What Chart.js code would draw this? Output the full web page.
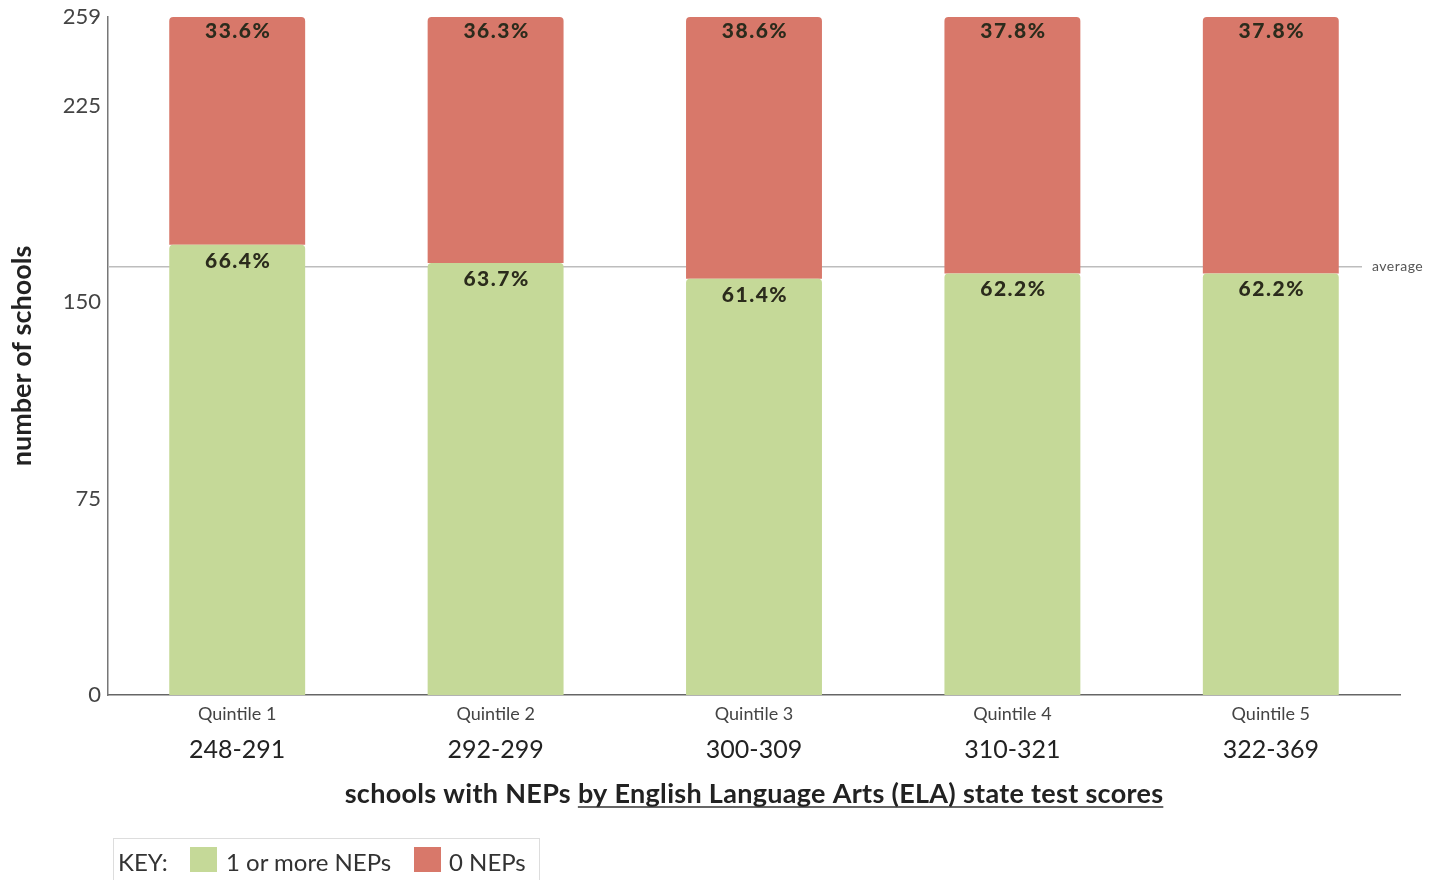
<!DOCTYPE html>
<html>
<head>
<meta charset="utf-8">
<script src="https://cdn.jsdelivr.net/npm/chart.js@4.4.1/dist/chart.umd.min.js"></script>
<style>
  html, body { margin: 0; padding: 0; background: #fff; }
  #wrap { position: relative; width: 1442px; height: 880px; overflow: hidden; }
  #chart { position: absolute; left: 0; top: 0; }
  .key {
    position: absolute; left: 113px; top: 838px; width: 427px; height: 60px;
    border: 1px solid #ddd; box-sizing: border-box;
    font-family: Lato, "Noto Sans", sans-serif; font-size: 24px; color: #333;
  }
  .key span { position: absolute; top: 10px; line-height: 26px; }
  .key .sw { width: 27px; height: 25px; top: 8px; }
</style>
</head>
<body>
<div id="wrap">
  <canvas id="chart" width="1442" height="880"></canvas>
  <div class="key">
    <span style="left:4px;">KEY:</span>
    <span class="sw" style="background:#c5d998; left:76px;"></span>
    <span style="left:112px;">1 or more NEPs</span>
    <span class="sw" style="background:#d8786a; left:300px;"></span>
    <span style="left:335px;">0 NEPs</span>
  </div>
</div>
<script>
// data
const categories = ['Quintile 1', 'Quintile 2', 'Quintile 3', 'Quintile 4', 'Quintile 5'];
const scoreRanges = ['248-291', '292-299', '300-309', '310-321', '322-369'];
const withNEPs = [172, 165, 159, 161, 161];
const withoutNEPs = [87, 94, 100, 98, 98];
const yTicks = [0, 75, 150, 225, 259];

const green = '#c5d998';
const red = '#d8786a';
const font = 'Lato, "Noto Sans", sans-serif';

const totals = withNEPs.map((v, i) => v + withoutNEPs[i]);
const average = withNEPs.reduce((a, b) => a + b, 0) / withNEPs.length;

// average line, percentage labels, x title
const extras = {
  id: 'extras',
  beforeDatasetsDraw(chart) {
    const { ctx, chartArea, scales } = chart;
    const y = scales.y.getPixelForValue(average);
    ctx.save();
    ctx.strokeStyle = '#bdbdbd';
    ctx.lineWidth = 1.5;
    ctx.beginPath();
    ctx.moveTo(chartArea.left, y);
    ctx.lineTo(chartArea.right - 38, y);
    ctx.stroke();
    ctx.fillStyle = '#555';
    ctx.font = '14px ' + font;
    ctx.letterSpacing = '0.5px';
    ctx.textBaseline = 'middle';
    ctx.fillText('average', chartArea.right - 28, y);
    ctx.restore();
  },
  afterDatasetsDraw(chart) {
    const { ctx, chartArea } = chart;
    ctx.save();
    ctx.fillStyle = '#2b2b1c';
    ctx.font = '900 21px ' + font;
    ctx.letterSpacing = '1.5px';
    ctx.textAlign = 'center';
    ctx.textBaseline = 'middle';
    chart.data.datasets.forEach((ds, i) => {
      chart.getDatasetMeta(i).data.forEach((bar, j) => {
        const pct = ds.data[j] / totals[j] * 100;
        ctx.fillText(pct.toFixed(1) + '%', bar.x + 1, bar.y + (i === 0 ? 16 : 14));
      });
    });
    ctx.restore();

    // x axis title, second part underlined
    const a = 'schools with NEPs ';
    const b = 'by English Language Arts (ELA) state test scores';
    ctx.save();
    ctx.font = 'bold 27px ' + font;
    ctx.letterSpacing = '0.3px';
    ctx.fillStyle = '#222';
    ctx.textBaseline = 'middle';
    const wa = ctx.measureText(a).width;
    const wb = ctx.measureText(b).width;
    const cx = (chartArea.left + chartArea.right) / 2;
    const x0 = cx - (wa + wb) / 2;
    const ty = 794;
    ctx.fillText(a, x0, ty);
    ctx.fillText(b, x0 + wa, ty);
    ctx.strokeStyle = '#333';
    ctx.lineWidth = 1.5;
    ctx.beginPath();
    ctx.moveTo(x0 + wa, ty + 13);
    ctx.lineTo(x0 + wa + wb, ty + 13);
    ctx.stroke();
    ctx.restore();
  }
};

new Chart(document.getElementById('chart'), {
  type: 'bar',
  data: {
    labels: categories,
    datasets: [
      {
        label: '1 or more NEPs',
        data: withNEPs,
        backgroundColor: green,
        borderRadius: { topLeft: 4, topRight: 4 },
        borderSkipped: 'bottom',
        categoryPercentage: 1,
        barPercentage: 0.526
      },
      {
        label: '0 NEPs',
        data: withoutNEPs,
        backgroundColor: red,
        borderRadius: { topLeft: 4, topRight: 4 },
        borderSkipped: 'bottom',
        categoryPercentage: 1,
        barPercentage: 0.526
      }
    ]
  },
  options: {
    responsive: false,
    animation: false,
    layout: { padding: { top: 17, right: 42, bottom: 111, left: 0 } },
    plugins: {
      legend: { display: false },
      tooltip: { enabled: false }
    },
    scales: {
      x: {
        stacked: true,
        weight: 0,
        grid: { display: false, drawTicks: false },
        border: { display: true, color: '#666', width: 1.5 },
        ticks: { color: '#444', font: { family: font, size: 18 }, padding: 8 },
        afterFit: s => { s.height = 34; }
      },
      x2: {
        type: 'category',
        labels: scoreRanges,
        position: 'bottom',
        offset: true,
        weight: 1,
        grid: { display: false, drawTicks: false },
        border: { display: false },
        ticks: { color: '#222', font: { family: font, size: 25 }, padding: 6 },
        afterFit: s => { s.height = 40; }
      },
      y: {
        stacked: true,
        min: 0,
        max: 259,
        grid: { display: false, drawTicks: false },
        border: { display: true, color: '#777', width: 1.5 },
        afterBuildTicks: s => { s.ticks = yTicks.map(v => ({ value: v })); },
        ticks: { color: '#444', font: { family: font, size: 22 }, padding: 7 },
        title: {
          display: true,
          text: 'number of schools',
          color: '#222',
          font: { family: font, size: 27, weight: 'bold' },
          padding: { top: 6, bottom: 0 }
        },
        afterFit: s => { s.width = 108; s.paddingTop = 0; s.paddingBottom = 0; }
      }
    }
  },
  plugins: [extras]
});
</script>
</body>
</html>
